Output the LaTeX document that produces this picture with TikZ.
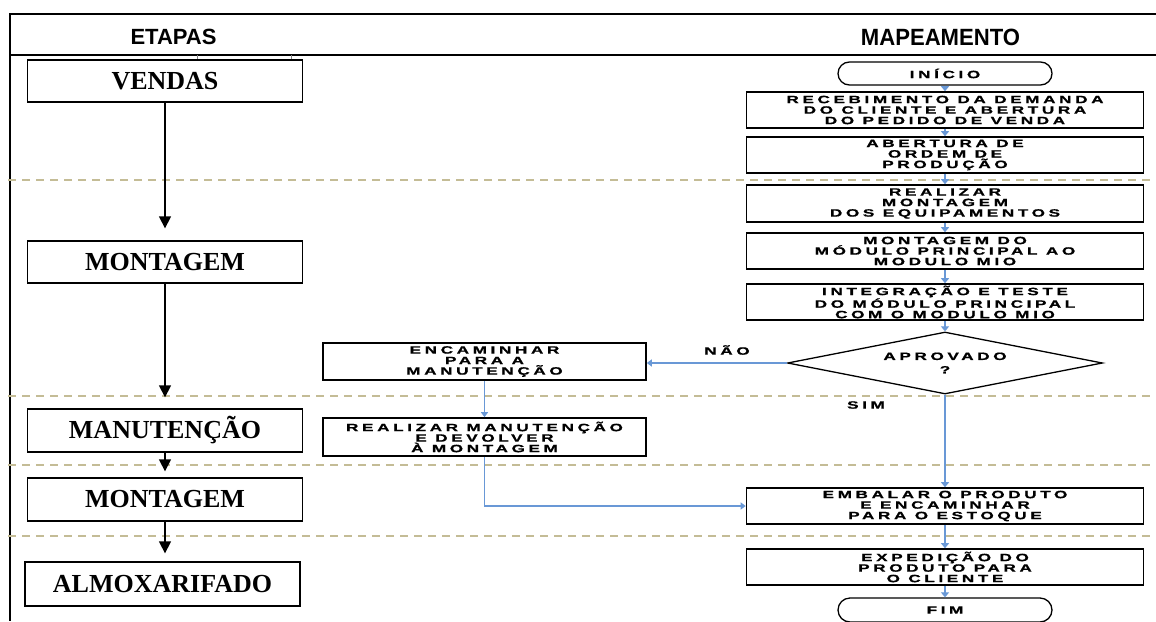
\documentclass[tikz,border=0pt]{standalone}
\usepackage{fontspec}
\setmainfont{Liberation Serif}
\newfontfamily\headfont{Liberation Sans}
\newfontfamily\flowfont{Liberation Sans Bold}[FakeStretch=1.62,LetterSpace=34,FakeBold=1]
\usetikzlibrary{arrows.meta, shapes.geometric}

\definecolor{sepcolor}{RGB}{196,188,150}
\definecolor{flowblue}{RGB}{105,152,214}

\tikzset{
  frameline/.style={line width=1.3pt, black},
  sepline/.style={sepcolor, line width=1.4pt, dash pattern=on 8pt off 6pt},
  stagebox/.style={draw, line width=1.3pt, minimum width=275pt, minimum height=42pt,
    inner sep=0pt, font=\bfseries\fontsize{26}{30}\selectfont},
  flowbox/.style={draw, line width=1.6pt, minimum width=397pt, minimum height=36pt,
    inner sep=0pt, align=center, font=\flowfont\fontsize{10.6}{10.5}\selectfont},
  termbox/.style={draw, line width=1.3pt, rounded corners=11.5pt, minimum width=214pt,
    minimum height=23pt, inner sep=0pt, font=\flowfont\fontsize{10.6}{10.5}\selectfont},
  stagearrow/.style={line width=1.3pt, -{Triangle[length=12pt,width=12pt]}},
  flowarrow/.style={flowblue, line width=2.6pt, -{Triangle[length=5pt,width=8pt]}},
  thinarrow/.style={flowblue, line width=1.4pt, -{Triangle[length=5pt,width=7pt]}},
  flowlabel/.style={font=\flowfont\fontsize{10.6}{10.5}\selectfont, inner sep=0pt}
}

\begin{document}
\begin{tikzpicture}[x=1pt, y=-1pt]
  \useasboundingbox (0,0) rectangle (1156,621);

  % frame and headings
  \draw[frameline] (1156,14) -- (10,14) -- (10,621);
  \draw[frameline] (10,55) -- (1156,55);
  \draw[gray, line width=1pt] (197,55) -- (197,59);
  \draw[gray, line width=1pt] (291,55) -- (291,59);
  \node[font=\headfont\bfseries\fontsize{22}{24}\selectfont] (etapas) at (173.5,37) {ETAPAS};
  \node[font=\headfont\bfseries\fontsize{23.5}{25}\selectfont, xscale=0.94] (mapeam) at (940.5,37) {MAPEAMENTO};

  % separators between stages
  \draw[sepline] (8,180) -- (1156,180);
  \draw[sepline] (8,396) -- (1156,396);
  \draw[sepline] (8,465) -- (1156,465);
  \draw[sepline] (8,536) -- (1156,536);

  % stages (left)
  \node[stagebox] (vendas) at (165,81) {VENDAS};
  \node[stagebox] (mont1) at (165,262) {MONTAGEM};
  \node[stagebox, minimum height=43pt] (manut) at (165,430.5) {MANUTENÇÃO};
  \node[stagebox, minimum height=43pt] (mont2) at (165,499.5) {MONTAGEM};
  \node[stagebox, minimum height=44pt] (almox) at (162.5,584) {ALMOXARIFADO};

  \draw[stagearrow, shorten >=12pt] (vendas) -- (mont1);
  \draw[stagearrow, shorten >=11pt] (mont1) -- (manut);
  \draw[stagearrow, shorten >=6pt] (manut) -- (mont2);
  \draw[stagearrow, shorten >=8pt] (mont2.south) -- (mont2.south |- almox.north);

  % mapping (right)
  \node[termbox] (inicio) at (945,73.5) {INÍCIO};
  \node[flowbox] (receb) at (945,110) {RECEBIMENTO DA DEMANDA\\DO CLIENTE E ABERTURA\\DO PEDIDO DE VENDA};
  \node[flowbox] (abert) at (945,155) {ABERTURA DE\\ORDEM DE\\PRODUÇÃO};
  \node[flowbox, minimum height=37pt] (realiz) at (945,203.5) {REALIZAR\\MONTAGEM\\DOS EQUIPAMENTOS};
  \node[flowbox] (modulo) at (945,251) {MONTAGEM DO\\MÓDULO PRINCIPAL AO\\MODULO MIO};
  \node[flowbox] (integ) at (945,302) {INTEGRAÇÃO E TESTE\\DO MÓDULO PRINCIPAL\\COM O MODULO MIO};
  \node[draw, diamond, aspect=5.1, line width=1.3pt, minimum width=315pt, minimum height=62pt, inner sep=0pt,
    align=center, font=\flowfont\fontsize{10.6}{13.5}\selectfont] (aprov) at (945,363) {APROVADO\\?};
  \node[flowbox, minimum width=323pt, minimum height=37pt] (encam) at (484.5,361.5) {ENCAMINHAR\\PARA A\\MANUTENÇÃO};
  \node[flowbox, minimum width=323pt, minimum height=38pt] (reman) at (484.5,437) {REALIZAR MANUTENÇÃO\\E DEVOLVER\\À MONTAGEM};
  \node[flowbox] (embal) at (945,506) {EMBALAR O PRODUTO\\E ENCAMINHAR\\PARA O ESTOQUE};
  \node[flowbox] (exped) at (945,567) {EXPEDIÇÃO DO\\PRODUTO PARA\\O CLIENTE};
  \node[termbox, minimum height=24pt, rounded corners=12pt] (fim) at (945,610) {FIM};

  \node[flowlabel] (nao) at (727,350) {NÃO};
  \node[flowlabel] (sim) at (866,405) {SIM};

  \draw[flowarrow] (inicio) -- (receb);
  \draw[flowarrow] (receb) -- (abert);
  \draw[flowarrow] (abert) -- (realiz);
  \draw[flowarrow] (realiz) -- (modulo);
  \draw[flowarrow] (modulo) -- (integ);
  \draw[flowarrow] (integ) -- (aprov);
  \draw[thinarrow] (aprov.west) -- (aprov.west -| encam.east);
  \draw[flowarrow] (aprov) -- (embal);
  \draw[thinarrow] (encam) -- (reman);
  \draw[thinarrow] (reman.south) |- (embal.west);
  \draw[flowarrow] (embal) -- (exped);
  \draw[flowarrow] (exped) -- (fim);
\end{tikzpicture}
\end{document}
